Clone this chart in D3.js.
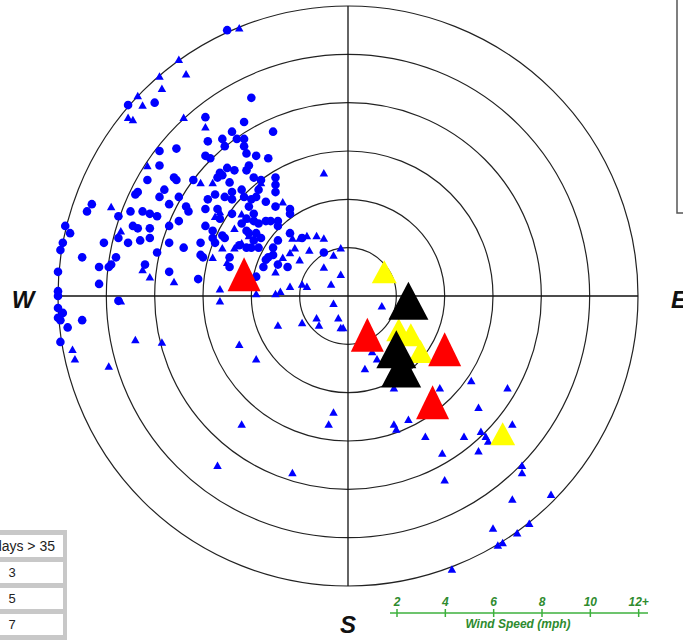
<!DOCTYPE html>
<html>
<head>
<meta charset="utf-8">
<script src="https://cdn.jsdelivr.net/npm/d3@7"></script>
<style>
  body { margin: 0; background: #fff; }
  svg { display: block; font-family: "Liberation Sans", Arial, sans-serif; }
</style>
</head>
<body>
<div id="chart"></div>
<script>
// wind components [east-west, north-south] in mph
var blueDots = [
  [-5.0,11.0],[-9.1,7.9],[-8.0,8.0],[-4.0,8.2],[-5.9,7.4],[-4.3,7.2],[-3.1,6.8],[-4.8,6.8],
  [-5.8,6.4],[-5.2,6.5],[-5.1,6.2],[-4.6,6.5],[-4.3,6.5],[-4.3,6.2],[-4.2,5.9],[-7.8,6.0],
  [-7.1,6.1],[-5.9,5.8],[-5.7,5.7],[-3.8,5.8],[-3.3,5.7],[-4.1,5.4],[-5.0,5.3],[-5.3,5.1],
  [-4.7,5.2],[-4.2,5.2],[-7.8,5.4],[-7.2,4.9],[-7.1,4.8],[-6.4,4.8],[-5.4,4.9],[-5.2,5.0],
  [-4.9,4.7],[-3.9,4.9],[-3.6,4.8],[-3.0,4.9],[-3.0,4.6],[-8.3,4.8],[-8.7,4.3],[-8.8,4.2],
  [-7.6,4.4],[-7.8,4.1],[-7.0,4.1],[-7.4,3.8],[-5.8,4.0],[-5.5,4.2],[-5.1,4.1],[-4.8,4.3],
  [-4.4,4.4],[-4.8,4.0],[-4.3,4.1],[-4.0,4.0],[-3.7,4.4],[-3.8,4.1],[-3.4,3.9],[-3.0,4.3],
  [-2.4,3.6],[-2.4,3.4],[-10.6,3.8],[-10.8,3.5],[-9.5,3.3],[-9.0,3.5],[-8.5,3.5],[-8.2,3.4],
  [-7.9,3.3],[-6.7,3.7],[-6.6,3.5],[-5.9,3.6],[-5.4,3.6],[-4.8,3.4],[-4.1,3.7],[-5.3,3.2],
  [-4.4,3.0],[-3.9,3.1],[-3.7,3.0],[-3.4,3.1],[-3.2,3.1],[-2.9,3.1],[-2.9,2.9],[-3.9,3.4],
  [-8.9,2.9],[-8.7,2.8],[-8.2,2.8],[-7.4,2.9],[-9.5,2.4],[-9.1,2.2],[-8.6,2.3],[-8.2,2.4],
  [-7.4,2.2],[-7.0,3.1],[-5.9,2.9],[-5.6,2.7],[-5.1,2.4],[-4.2,2.7],[-4.1,2.6],[-3.9,2.3],
  [-4.0,2.0],[-4.5,2.1],[-5.6,2.4],[-6.8,2.0],[-6.1,1.7],[-6.0,1.6],[-4.9,1.6],[-4.9,1.2],
  [-3.7,2.0],[-2.9,2.3],[-3.1,2.0],[-1.0,1.8],[-3.3,1.6],[-3.1,1.7],[-3.4,1.5],[-2.9,1.3],
  [-3.5,1.2],[-2.5,1.2],[-11.0,1.6],[-10.3,1.2],[-9.8,1.3],[-9.6,1.6],[-10.3,0.5],[-9.9,1.2],
  [-8.4,1.3],[-7.4,1.0],[-6.2,0.7],[-3.8,0.8],[-2.4,2.6],[-1.9,2.4],[-6.1,2.2],[-5.5,2.2],
  [-4.2,2.0],[-3.6,2.4],[-3.8,2.6],[-5.2,2.5],[-11.7,2.9],[-11.5,2.6],[-11.8,2.2],[-11.9,1.9],
  [-12.0,1.0],[-12.0,0.2],[-12.0,0.0],[-9.5,-0.2],[-12.0,-0.5],[-11.8,-0.7],[-12.0,-0.9],
  [-11.9,-1.0],[-11.6,-1.3],[-11.0,-1.0],[-11.9,-1.9],[-3.0,3.7],[-4.2,3.2],[-10.1,2.2],[-7.9,1.8]
]

var blueTriangles = [
  [-4.5,11.1],[-7.0,9.8],[-6.7,9.2],[-7.8,9.1],[-7.7,8.6],[-8.7,8.3],[-8.5,7.9],[-9.1,7.4],
  [-8.9,7.3],[-6.8,7.4],[-5.9,7.0],[-8.3,5.4],[-6.1,4.7],[-5.6,4.7],[-3.6,4.7],[-1.0,5.1],
  [-2.7,3.9],[-9.8,3.7],[-5.3,3.5],[-4.4,3.4],[-4.2,3.2],[-9.4,2.7],[-4.7,2.8],[-4.1,2.5],
  [-5.2,2.0],[-5.6,1.6],[-5.0,1.4],[-4.7,2.0],[-4.4,2.2],[-2.2,2.0],[-1.6,1.9],[-2.0,2.4],
  [-1.7,2.5],[-1.3,2.5],[-1.0,2.4],[-0.3,2.0],[-0.6,1.7],[-2.4,1.8],[-2.7,1.6],[-3.0,1.0],
  [-2.0,1.5],[-8.5,1.1],[-8.2,0.8],[-7.2,0.6],[-5.3,0.3],[-2.4,0.4],[-1.9,0.5],[-1.7,0.4],
  [-1.0,1.2],[-0.3,0.9],[-0.7,0.5],[-3.0,0.1],[-2.8,0.2],[-5.3,-0.2],[-3.8,0.1],[-9.4,-0.2],
  [-0.6,-0.3],[-0.4,-0.9],[-1.3,-0.9],[-1.2,-1.2],[-1.9,-1.1],[-2.9,-1.2],[-0.3,-1.3],[-0.2,-1.3],
  [-11.4,-2.2],[-11.3,-2.6],[-9.9,-2.9],[-8.8,-1.8],[-7.7,-1.9],[-4.5,-2.0],[-3.8,-2.6],
  [-0.6,-4.8],[-0.8,-5.3],[-4.4,-5.3],[-5.4,-7.0],[-2.3,-7.3],
  [1.4,-0.4],[1.0,-2.3],[1.2,-2.6],[0.7,-3.0],[1.9,-3.8],[3.8,-3.8],[5.1,-3.5],[6.6,-3.8],
  [5.4,-4.6],[1.9,-5.3],[2.0,-5.5],[2.5,-5.1],[3.2,-5.8],[4.8,-5.8],[5.5,-5.6],[5.7,-5.8],
  [5.8,-6.0],[6.8,-5.3],[3.9,-6.5],[5.4,-6.4],[4.0,-7.6],[7.2,-7.0],[7.2,-7.3],[6.8,-8.4],
  [8.4,-8.2],[6.0,-9.6],[7.0,-9.8],[7.5,-9.4],[6.4,-10.2],[6.2,-10.3],[4.3,-11.3],
  [-5.5,3.3],[-3.8,3.1],[-4.8,4.1],[-2.3,2.4]
]

var yellowTriangles = [[1.5,1.0],[2.1,-1.4],[2.6,-1.6],[3.0,-2.3],[6.4,-5.7]]
var blackTriangles = [[2.5,-0.2],[2.0,-2.2],[2.2,-3.0]]
var redTriangles = [[-4.3,0.9],[0.8,-1.6],[4.0,-2.2],[3.5,-4.4]]

var ringSpeeds = [2, 4, 6, 8, 10, 12]
var speedTicks = [2, 4, 6, 8, 10, 12]
var speedTickLabels = ['2', '4', '6', '8', '10', '12+']
var compassLabels = ['W', 'E', 'S']
var tableHeader = 'days > 35'
var tableRows = ['3', '5', '7']

var width = 683, height = 640
var cx = 348, cy = 296, R = 290

var svg = d3.select('#chart').append('svg')
  .attr('width', width)
  .attr('height', height)

var xScale = d3.scaleLinear().domain([-12, 12]).range([cx - R, cx + R])
var yScale = d3.scaleLinear().domain([-12, 12]).range([cy + R, cy - R])
var rScale = d3.scaleLinear().domain([0, 12]).range([0, R])

// box cut off at top right
svg.append('rect')
  .attr('x', 677).attr('y', -5)
  .attr('width', 30).attr('height', 218)
  .attr('fill', '#fff')
  .attr('stroke', '#555')
  .attr('stroke-width', 1.5)

// speed rings
svg.selectAll('.ring')
  .data(ringSpeeds)
  .enter().append('circle')
  .attr('class', 'ring')
  .attr('cx', xScale(0))
  .attr('cy', yScale(0))
  .attr('r', function (d) { return rScale(d) })
  .attr('fill', 'none')
  .attr('stroke', '#222')
  .attr('stroke-width', 1.2)

// cross hairs
svg.append('line')
  .attr('x1', xScale(-12)).attr('x2', xScale(12))
  .attr('y1', yScale(0)).attr('y2', yScale(0))
  .attr('stroke', '#111').attr('stroke-width', 1.3)
svg.append('line')
  .attr('x1', xScale(0)).attr('x2', xScale(0))
  .attr('y1', yScale(-12)).attr('y2', yScale(12))
  .attr('stroke', '#111').attr('stroke-width', 1.3)

function tri(w, h) {
  return 'M0,' + (-h / 2) + 'L' + (w / 2) + ',' + (h / 2) + 'L' + (-w / 2) + ',' + (h / 2) + 'Z'
}

svg.selectAll('.dot')
  .data(blueDots)
  .enter().append('circle')
  .attr('class', 'dot')
  .attr('cx', function (d) { return xScale(d[0]) })
  .attr('cy', function (d) { return yScale(d[1]) })
  .attr('r', 4.3)
  .attr('fill', '#0000ff')

svg.selectAll('.small-tri')
  .data(blueTriangles)
  .enter().append('path')
  .attr('class', 'small-tri')
  .attr('d', tri(8.5, 7.5))
  .attr('transform', function (d) { return 'translate(' + xScale(d[0]) + ',' + yScale(d[1]) + ')' })
  .attr('fill', '#0000ff')

function bigTriangles(data, color, w, h) {
  svg.selectAll(null)
    .data(data)
    .enter().append('path')
    .attr('d', tri(w, h))
    .attr('transform', function (d) { return 'translate(' + xScale(d[0]) + ',' + yScale(d[1]) + ')' })
    .attr('fill', color)
}
bigTriangles(yellowTriangles, '#ffff00', 25, 23)
bigTriangles(blackTriangles, '#000000', 40, 38)
bigTriangles(redTriangles, '#ff0000', 33, 34)

// compass letters
var compassPos = [[xScale(-12) - 35, yScale(0) + 12], [xScale(12) + 41, yScale(0) + 12], [xScale(0), yScale(-12) + 47]]
svg.selectAll('.compass')
  .data(compassLabels)
  .enter().append('text')
  .attr('class', 'compass')
  .attr('x', function (d, i) { return compassPos[i][0] })
  .attr('y', function (d, i) { return compassPos[i][1] })
  .attr('text-anchor', 'middle')
  .attr('font-size', 24)
  .attr('font-weight', 'bold')
  .attr('font-style', 'italic')
  .attr('fill', '#111')
  .text(function (d) { return d })

// wind speed key
var keyScale = d3.scaleLinear().domain([2, 12]).range([397, 397 + rScale(10)])
var keyY = 613
var key = svg.append('g').attr('fill', '#2e8b2e')
key.append('line')
  .attr('x1', 390).attr('x2', 648)
  .attr('y1', keyY).attr('y2', keyY)
  .attr('stroke', '#3cb03c').attr('stroke-width', 1.5)
key.selectAll('.ktick')
  .data(speedTicks)
  .enter().append('line')
  .attr('x1', function (d) { return keyScale(d) })
  .attr('x2', function (d) { return keyScale(d) })
  .attr('y1', keyY - 4).attr('y2', keyY + 4)
  .attr('stroke', '#3cb03c').attr('stroke-width', 1.5)
key.selectAll('.klabel')
  .data(speedTicks)
  .enter().append('text')
  .attr('x', function (d) { return keyScale(d) })
  .attr('y', keyY - 7)
  .attr('text-anchor', 'middle')
  .attr('font-size', 12)
  .attr('font-weight', 'bold')
  .attr('font-style', 'italic')
  .text(function (d, i) { return speedTickLabels[i] })
key.append('text')
  .text('Wind Speed (mph)')
  .attr('x', 518).attr('y', keyY + 15)
  .attr('text-anchor', 'middle')
  .attr('font-size', 12)
  .attr('font-weight', 'bold')
  .attr('font-style', 'italic')

// table at bottom left, mostly cut off
var table = svg.append('g')
table.append('rect')
  .attr('x', -60).attr('y', 530)
  .attr('width', 127).attr('height', 115)
  .attr('fill', '#c8c8c8')
var rowTops = [535, 562, 588, 614]
var rowH = [22, 21, 21, 21]
table.selectAll('.cell')
  .data(rowTops)
  .enter().append('rect')
  .attr('x', -40).attr('y', function (d) { return d })
  .attr('width', 103).attr('height', function (d, i) { return rowH[i] })
  .attr('fill', '#fff')
table.append('text')
  .text(tableHeader)
  .attr('x', 55).attr('y', rowTops[0] + 16)
  .attr('text-anchor', 'end')
  .attr('font-size', 14)
  .attr('fill', '#222')
table.selectAll('.rowlabel')
  .data(tableRows)
  .enter().append('text')
  .attr('x', 12)
  .attr('y', function (d, i) { return rowTops[i + 1] + 15 })
  .attr('text-anchor', 'middle')
  .attr('font-size', 13)
  .attr('fill', '#222')
  .text(function (d) { return d })
</script>
</body>
</html>
